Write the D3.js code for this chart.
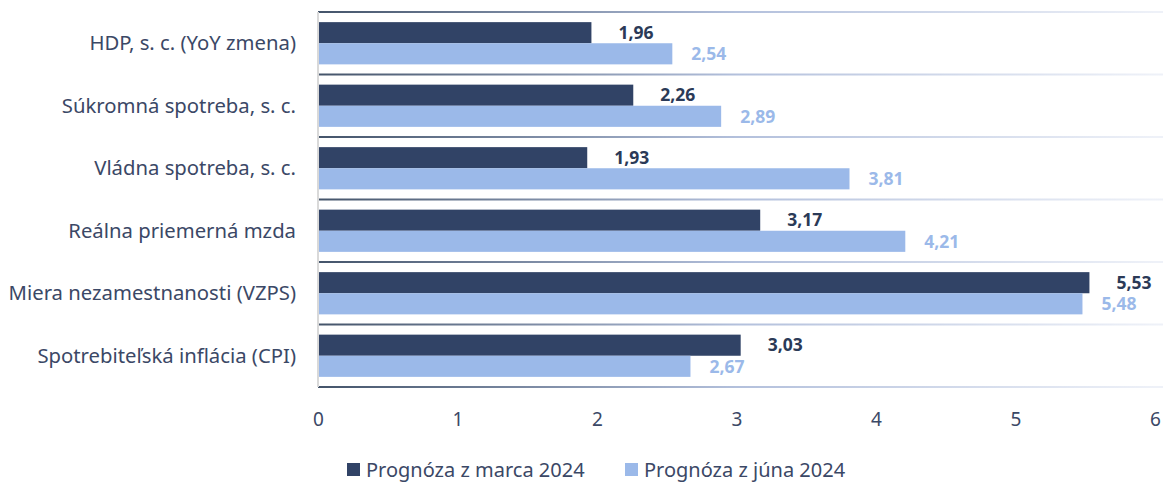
<!DOCTYPE html>
<html><head><meta charset="utf-8">
<script src="https://cdn.jsdelivr.net/npm/d3@7"></script>
<style>body{margin:0;background:#fff}svg{display:block;font-family:"Noto Sans","Open Sans",sans-serif}</style>
</head><body><svg id="c" width="1164" height="483"></svg>
<script>
const categories = ["HDP, s. c. (YoY zmena)","Súkromná spotreba, s. c.","Vládna spotreba, s. c.","Reálna priemerná mzda","Miera nezamestnanosti (VZPS)","Spotrebiteľská inflácia (CPI)"];
const seriesNames = ["Prognóza z marca 2024","Prognóza z júna 2024"];
const march = [1.96,2.26,1.93,3.17,5.53,3.03];
const june = [2.54,2.89,3.81,4.21,5.48,2.67];
const xTicks = [0,1,2,3,4,5,6];

const colors = ["#314366","#9bb9e9"];
const labelColors = ["#2b3a57","#9bb9e9"];
const svg = d3.select("#c");
const m = {l:318, r:1155, t:12, b:387};
const x = d3.scaleLinear().domain([0,6]).range([m.l,m.r]);
const y = d3.scaleBand().domain(categories).range([m.t,m.b]);
const inner = d3.scaleBand().domain([0,1]).range([0,y.bandwidth()]).paddingOuter(0.48).paddingInner(0);

const defs = svg.append("defs");
const g = defs.append("linearGradient").attr("id","lg").attr("gradientUnits","userSpaceOnUse")
  .attr("x1",m.l).attr("x2",m.r).attr("y1",0).attr("y2",0);
g.append("stop").attr("offset","0%").attr("stop-color","#44546a");
g.append("stop").attr("offset","50%").attr("stop-color","#b3c0dc");
g.append("stop").attr("offset","100%").attr("stop-color","#eef1f8");

// separators
const seps = categories.map(c=>y(c)).concat([m.b]);
svg.append("g").selectAll("rect").data(seps).join("rect")
  .attr("x",m.l).attr("y",d=>d-1).attr("width",m.r-m.l+8).attr("height",2).attr("fill","url(#lg)");
// left axis line
svg.append("line").attr("x1",m.l).attr("x2",m.l).attr("y1",m.t).attr("y2",m.b)
  .attr("stroke","#d9d9d9").attr("stroke-width",2);

const data = [march,june];
data.forEach((vals,si)=>{
  svg.append("g").selectAll("rect").data(vals).join("rect")
    .attr("x",x(0)+1).attr("y",(d,i)=>y(categories[i])+inner(si))
    .attr("width",d=>x(d)-x(0)-1).attr("height",inner.bandwidth())
    .attr("fill",colors[si]);
  svg.append("g").selectAll("text").data(vals).join("text")
    .attr("x",d=>x(d)+(si===0?27:19)).attr("y",(d,i)=>y(categories[i])+inner(si)+inner.bandwidth()/2)
    .attr("dy","0.36em").attr("font-size",17.5).attr("font-weight",700).attr("fill",labelColors[si])
    .text(d=>d.toFixed(2).replace(".",","));
});

// category labels
svg.append("g").selectAll("text").data(categories).join("text")
  .attr("x",296).attr("y",d=>y(d)+y.bandwidth()/2).attr("dy","0.35em")
  .attr("text-anchor","end").attr("font-size",20.3).attr("fill","#3b4866").text(d=>d);

// x axis
const ax = svg.append("g").attr("transform",`translate(0,${m.b})`)
  .call(d3.axisBottom(x).tickValues(xTicks).tickSize(0).tickPadding(0).tickFormat(d=>d));
ax.select(".domain").remove();
ax.selectAll("text").attr("y",32).attr("dy","0.35em").attr("font-size",19).attr("fill","#3b4866").attr("font-family","\"Noto Sans\",sans-serif");

// legend
const leg = svg.append("g");
const lx = [347,625];
seriesNames.forEach((n,i)=>{
  leg.append("rect").attr("x",lx[i]).attr("y",463).attr("width",13).attr("height",13).attr("fill",colors[i]);
  leg.append("text").attr("x",lx[i]+19).attr("y",477).attr("font-size",20).attr("fill","#3b4866").text(n);
});
</script></body></html>
